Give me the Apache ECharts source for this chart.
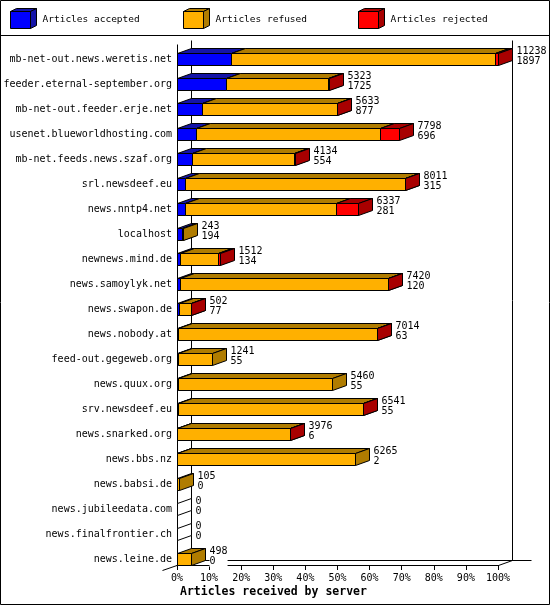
<!DOCTYPE html>
<html><head><meta charset="utf-8">
<script src="https://cdn.jsdelivr.net/npm/echarts/dist/echarts.min.js"></script>
<style>html,body{margin:0;padding:0;background:#fff}#c{width:550px;height:605px}</style>
</head><body><div id="c"></div>
<script>
const servers = ['mb-net-out.news.weretis.net','feeder.eternal-september.org','mb-net-out.feeder.erje.net','usenet.blueworldhosting.com','mb-net.feeds.news.szaf.org','srl.newsdeef.eu','news.nntp4.net','localhost','newnews.mind.de','news.samoylyk.net','news.swapon.de','news.nobody.at','feed-out.gegeweb.org','news.quux.org','srv.newsdeef.eu','news.snarked.org','news.bbs.nz','news.babsi.de','news.jubileedata.com','news.finalfrontier.ch','news.leine.de'];
const offered  = [11238,5323,5633,7798,4134,8011,6337,243,1512,7420,502,7014,1241,5460,6541,3976,6265,105,0,0,498];
const accepted = [1897,1725,877,696,554,315,281,194,134,120,77,63,55,55,55,6,2,0,0,0,0];
const refused  = [9241,3588,4746,6422,3575,7686,5296,49,1328,7290,415,6946,1186,5405,6481,3965,6263,105,0,0,498];
const rejected = [100,10,10,680,5,10,760,0,50,10,10,5,0,0,5,5,0,0,0,0,0];
const seriesNames = ['Articles accepted','Articles refused','Articles rejected'];
const xTickStep = 10;

const FONT = '"DejaVu Sans Mono", monospace';
const FRONT = ['#0000FF','#FFB000','#FF0000'];
const DARK  = ['#1414A8','#B07C00','#A80000'];
const DX = 14, DY = -5;
const cr = v => Math.floor(v) + 0.5;

const maxOff = Math.max(...offered);
const pct = v => v / maxOff * 100;
const segs = [accepted, refused, rejected];

function segData(k) {
  return servers.map((s, i) => {
    let start = 0;
    for (let j = 0; j < k; j++) start += segs[j][i];
    return [pct(start), pct(start + segs[k][i]), i, segs[k][i]];
  });
}

function segRender(k) {
  return function (params, api) {
    const cnt = api.value(3);
    if (!cnt) return null;
    const a = api.coord([api.value(0), api.value(2)]);
    const b = api.coord([api.value(1), api.value(2)]);
    const x0 = cr(a[0]), x1 = cr(b[0]);
    const yt = cr(a[1] - 6), yb = cr(a[1] + 6);
    const st = {stroke: '#000', lineWidth: 1};
    return {type: 'group', children: [
      {type: 'polygon', shape: {points: [[x0, yt], [x1, yt], [x1 + DX, yt + DY], [x0 + DX, yt + DY]]}, style: Object.assign({fill: DARK[k]}, st)},
      {type: 'polygon', shape: {points: [[x1, yt], [x1 + DX, yt + DY], [x1 + DX, yb + DY], [x1, yb]]}, style: Object.assign({fill: DARK[k]}, st)},
      {type: 'rect', shape: {x: x0, y: yt, width: x1 - x0, height: yb - yt}, style: Object.assign({fill: FRONT[k]}, st)}
    ]};
  };
}

function labelRender(params, api) {
  const off = api.value(2), acc = api.value(3);
  const p = api.coord([api.value(0), api.value(1)]);
  const x = cr(p[0]);
  const yt = cr(p[1] - 6), yb = cr(p[1] + 6);
  const children = [];
  if (!off) {
    children.push({type: 'polygon', shape: {points: [[x, yt], [x + DX, yt + DY], [x + DX, yb + DY], [x, yb]]}, style: {fill: '#fff', stroke: '#000', lineWidth: 1}});
  }
  children.push({type: 'text', z2: 10, style: {text: off + '\n' + acc, x: x + DX + 4, y: p[1] - 3, verticalAlign: 'middle', align: 'left', font: '10px ' + FONT, fill: '#000', lineHeight: 10.5, backgroundColor: '#fff'}});
  return {type: 'group', children};
}

const legendLefts = [10, 183, 358];
const chart = echarts.init(document.getElementById('c'), null, {renderer: 'canvas'});
const option = {
  animation: false,
  backgroundColor: '#fff',
  title: {text: 'Articles received by server', left: 180, top: 586, padding: 0,
    textStyle: {fontFamily: FONT, fontWeight: 'bold', fontSize: 11.5, color: '#000'}},
  legend: seriesNames.map((n, k) => ({
    data: [n], left: legendLefts[k], top: 11, padding: 0, itemWidth: 20, itemHeight: 17, icon: 'rect',
    selectedMode: false, itemStyle: {borderColor: '#000', borderWidth: 1},
    textStyle: {fontFamily: FONT, fontSize: 9.5, color: '#000', padding: [0, 0, 0, 7]}
  })),
  grid: {left: 177, right: 52, top: 47, bottom: 33},
  xAxis: {type: 'value', min: 0, max: 100, interval: xTickStep, offset: -7,
    axisLine: {show: true, lineStyle: {color: '#000', width: 1}},
    axisTick: {show: true, length: 5, lineStyle: {color: '#000'}},
    axisLabel: {formatter: '{value}%', fontFamily: FONT, fontSize: 10, color: '#000', margin: 8},
    splitLine: {show: false}},
  yAxis: {type: 'category', inverse: true, data: servers,
    axisLine: {show: false}, axisTick: {show: false},
    axisLabel: {fontFamily: FONT, fontSize: 10, color: '#000', margin: 5}},
  series: [0, 1, 2].map(k => ({
    name: seriesNames[k], type: 'custom', renderItem: segRender(k),
    itemStyle: {color: FRONT[k]},
    encode: {x: [0, 1], y: 2}, data: segData(k), z: 3
  })).concat([{
    name: 'labels', type: 'custom', renderItem: labelRender, z: 5,
    encode: {x: 0, y: 1},
    data: servers.map((s, i) => [pct(offered[i]), i, offered[i], accepted[i]])
  }])
};
chart.setOption(option);

const pA = chart.convertToPixel({gridIndex: 0}, [0, 0]);
const pB = chart.convertToPixel({gridIndex: 0}, [100, servers.length - 1]);
const X0 = cr(pA[0]), X100 = cr(pB[0]);
const yTop = cr(pA[1] - 15), yFloor = cr(pB[1] + 6);
const ln = (x1, y1, x2, y2) => ({type: 'line', z: 1, shape: {x1, y1, x2, y2}, style: {stroke: '#000', lineWidth: 1}});
const graphics = [
  {type: 'rect', z: 0, shape: {x: 0.5, y: 0.5, width: 549, height: 604}, style: {fill: null, stroke: '#000', lineWidth: 1}},
  ln(0, 35.5, 550, 35.5),
  ln(X0, yTop, X0, yFloor),
  ln(X0 + DX, yTop - 4, X0 + DX, yFloor + DY),
  ln(X100 + DX, yTop - 4, X100 + DX, yFloor + DY),
  ln(X0 + DX, yFloor + DY, X100 + DX + 19, yFloor + DY),
  ln(X0 - 15, yFloor + 5, X0 + DX, yFloor + DY),
  ln(X100, yFloor, X100 + DX, yFloor + DY)
];
legendLefts.forEach((L, k) => {
  const x0 = L + 0.5, x1 = L + 20.5, yt = 11.5, yb = 28.5;
  graphics.push({type: 'polygon', z: 10, shape: {points: [[x0, yt], [x1, yt], [x1 + 6, yt - 3], [x0 + 6, yt - 3]]}, style: {fill: DARK[k], stroke: '#000', lineWidth: 1}});
  graphics.push({type: 'polygon', z: 10, shape: {points: [[x1, yt], [x1 + 6, yt - 3], [x1 + 6, yb - 3], [x1, yb]]}, style: {fill: DARK[k], stroke: '#000', lineWidth: 1}});
});
chart.setOption({graphic: graphics});
</script></body></html>
